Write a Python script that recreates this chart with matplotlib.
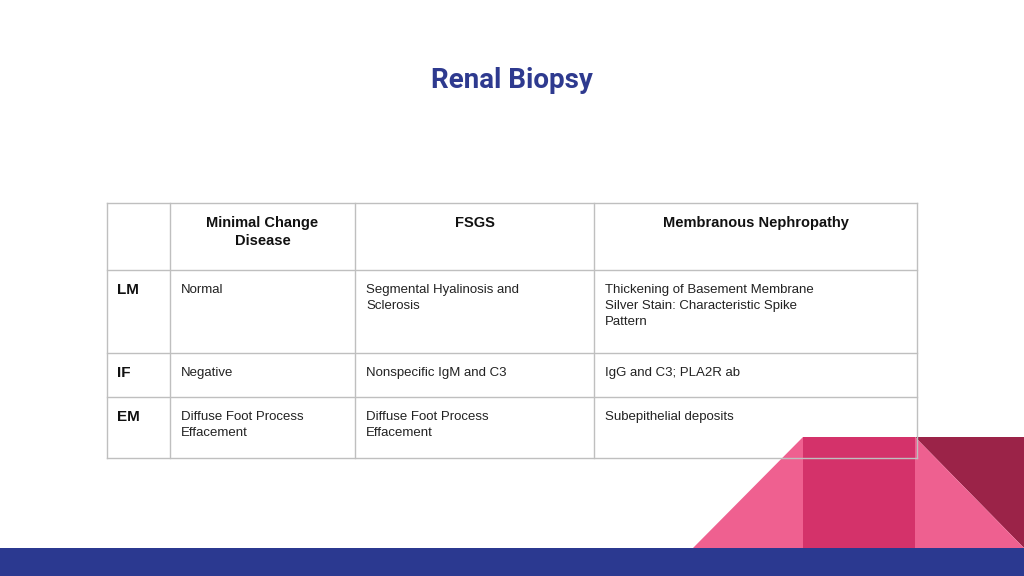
import matplotlib
matplotlib.use("Agg")
import matplotlib.pyplot as plt
from matplotlib.patches import Polygon, Rectangle

title = "Renal Biopsy"
columns = ["Minimal Change\nDisease", "FSGS", "Membranous Nephropathy"]
row_labels = ["LM", "IF", "EM"]
cells = [
    ["Normal", "Segmental Hyalinosis and\nSclerosis",
     "Thickening of Basement Membrane\nSilver Stain: Characteristic Spike\nPattern"],
    ["Negative", "Nonspecific IgM and C3", "IgG and C3; PLA2R ab"],
    ["Diffuse Foot Process\nEffacement", "Diffuse Foot Process\nEffacement", "Subepithelial deposits"],
]

xs = [107, 170, 355, 594, 917]
ys = [203, 270, 353, 397, 458]

fig = plt.figure(figsize=(10.24, 5.76), dpi=100)
ax = fig.add_axes([0, 0, 1, 1])
ax.set_xlim(0, 1024)
ax.set_ylim(576, 0)
ax.axis("off")

ax.text(512, 80, title, ha="center", va="center", fontsize=20, fontweight="bold",
        color="#2E3A8F", family="Roboto")

# decorations
ax.add_patch(Polygon([(693, 548), (803, 437), (803, 548)], color="#EF6090", lw=0))
ax.add_patch(Rectangle((803, 437), 112, 111, color="#D4326A", lw=0))
ax.add_patch(Polygon([(915, 437), (1024, 437), (1024, 548)], color="#9B2348", lw=0))
ax.add_patch(Polygon([(915, 437), (1024, 548), (915, 548)], color="#EE6090", lw=0))
ax.add_patch(Rectangle((0, 548), 1024, 28, color="#2B3990", lw=0))

lc = "#BFBFBF"
for x in xs:
    ax.plot([x, x], [ys[0], ys[-1]], color=lc, lw=1)
for y in ys:
    ax.plot([xs[0], xs[-1]], [y, y], color=lc, lw=1)

for j, c in enumerate(columns):
    ax.text((xs[j + 1] + xs[j + 2]) / 2, ys[0] + 13, c, ha="center", va="top",
            fontsize=10.5, fontweight="bold", color="#111111", linespacing=1.4, family="Liberation Sans")
for i, r in enumerate(row_labels):
    ax.text(xs[0] + 10, ys[i + 1] + 13, r, ha="left", va="top", fontsize=11,
            fontweight="bold", color="#111111", family="Liberation Sans")
    for j, t in enumerate(cells[i]):
        ax.text(xs[j + 1] + 11, ys[i + 1] + 14, t, ha="left", va="top", fontsize=9.5,
                color="#222222", linespacing=1.45, family="Liberation Sans")

fig.savefig("out.png", dpi=100)
